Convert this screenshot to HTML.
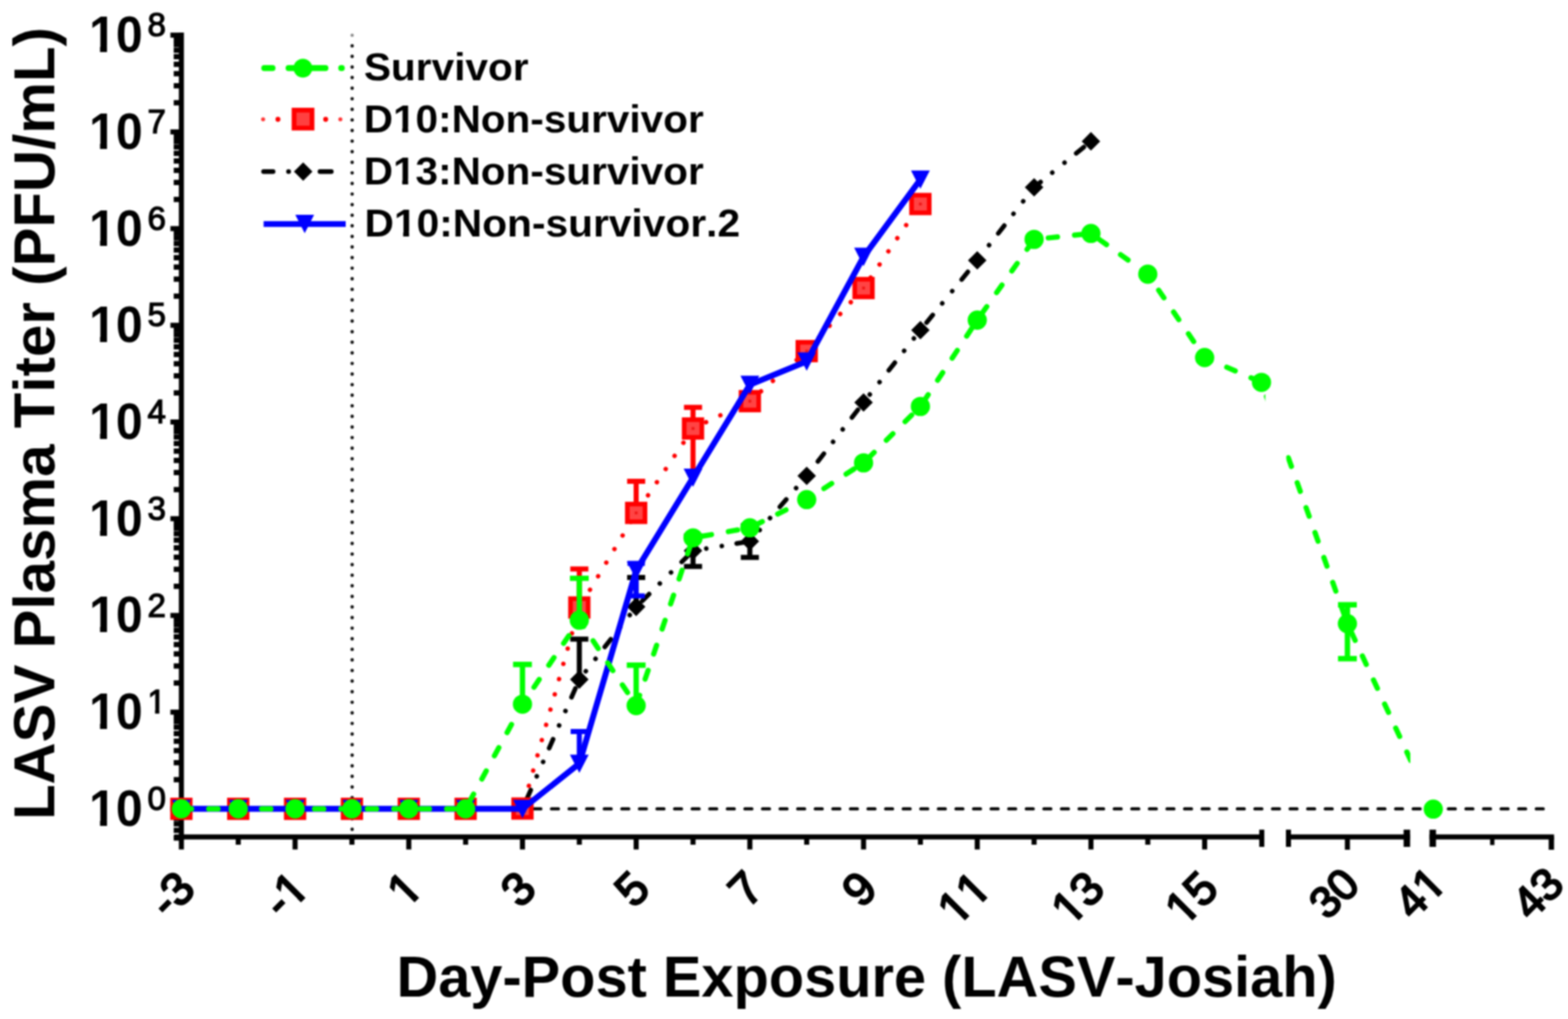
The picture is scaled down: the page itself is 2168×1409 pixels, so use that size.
<!DOCTYPE html>
<html lang="en"><head><meta charset="utf-8"><title>LASV Plasma Titer</title>
<style>html,body{margin:0;padding:0;background:#fff;overflow:hidden}svg{display:block;filter:blur(0.9px)}text{font-family:"Liberation Sans",sans-serif;font-weight:bold;fill:#000;font-kerning:none}text.sb{font-weight:normal;stroke:#000;stroke-linejoin:miter}</style>
</head><body>
<svg width="2168" height="1409" viewBox="0 0 2168 1409">
<rect width="2168" height="1409" fill="#fff"/>
<defs>
<clipPath id="clipA"><rect x="0" y="0" width="1749.5" height="1409"/></clipPath>
<clipPath id="clipB"><rect x="1778.5" y="0" width="171.5" height="1409"/><rect x="1982" y="0" width="186" height="1409"/></clipPath>
</defs>
<g id="axes" stroke="#000" fill="none">
<line x1="250.8" y1="45.1" x2="250.8" y2="1160.8" stroke-width="7.0"/>
<line x1="235.6" y1="1118.4" x2="250.8" y2="1118.4" stroke-width="7"/>
<line x1="235.6" y1="984.7" x2="250.8" y2="984.7" stroke-width="7"/>
<line x1="235.6" y1="851.0" x2="250.8" y2="851.0" stroke-width="7"/>
<line x1="235.6" y1="717.2" x2="250.8" y2="717.2" stroke-width="7"/>
<line x1="235.6" y1="583.5" x2="250.8" y2="583.5" stroke-width="7"/>
<line x1="235.6" y1="449.8" x2="250.8" y2="449.8" stroke-width="7"/>
<line x1="235.6" y1="316.1" x2="250.8" y2="316.1" stroke-width="7"/>
<line x1="235.6" y1="182.4" x2="250.8" y2="182.4" stroke-width="7"/>
<line x1="235.6" y1="48.6" x2="250.8" y2="48.6" stroke-width="7"/>
<line x1="240.2" y1="1158.7" x2="250.8" y2="1158.7" stroke-width="7.3"/>
<line x1="240.2" y1="1148.1" x2="250.8" y2="1148.1" stroke-width="7.3"/>
<line x1="240.2" y1="1139.1" x2="250.8" y2="1139.1" stroke-width="7.3"/>
<line x1="240.2" y1="1131.4" x2="250.8" y2="1131.4" stroke-width="7.3"/>
<line x1="240.2" y1="1124.5" x2="250.8" y2="1124.5" stroke-width="7.3"/>
<line x1="240.2" y1="1078.1" x2="250.8" y2="1078.1" stroke-width="7.3"/>
<line x1="240.2" y1="1054.6" x2="250.8" y2="1054.6" stroke-width="7.3"/>
<line x1="240.2" y1="1037.9" x2="250.8" y2="1037.9" stroke-width="7.3"/>
<line x1="240.2" y1="1024.9" x2="250.8" y2="1024.9" stroke-width="7.3"/>
<line x1="240.2" y1="1014.3" x2="250.8" y2="1014.3" stroke-width="7.3"/>
<line x1="240.2" y1="1005.4" x2="250.8" y2="1005.4" stroke-width="7.3"/>
<line x1="240.2" y1="997.6" x2="250.8" y2="997.6" stroke-width="7.3"/>
<line x1="240.2" y1="990.8" x2="250.8" y2="990.8" stroke-width="7.3"/>
<line x1="240.2" y1="944.4" x2="250.8" y2="944.4" stroke-width="7.3"/>
<line x1="240.2" y1="920.9" x2="250.8" y2="920.9" stroke-width="7.3"/>
<line x1="240.2" y1="904.2" x2="250.8" y2="904.2" stroke-width="7.3"/>
<line x1="240.2" y1="891.2" x2="250.8" y2="891.2" stroke-width="7.3"/>
<line x1="240.2" y1="880.6" x2="250.8" y2="880.6" stroke-width="7.3"/>
<line x1="240.2" y1="871.7" x2="250.8" y2="871.7" stroke-width="7.3"/>
<line x1="240.2" y1="863.9" x2="250.8" y2="863.9" stroke-width="7.3"/>
<line x1="240.2" y1="857.1" x2="250.8" y2="857.1" stroke-width="7.3"/>
<line x1="240.2" y1="810.7" x2="250.8" y2="810.7" stroke-width="7.3"/>
<line x1="240.2" y1="787.2" x2="250.8" y2="787.2" stroke-width="7.3"/>
<line x1="240.2" y1="770.5" x2="250.8" y2="770.5" stroke-width="7.3"/>
<line x1="240.2" y1="757.5" x2="250.8" y2="757.5" stroke-width="7.3"/>
<line x1="240.2" y1="746.9" x2="250.8" y2="746.9" stroke-width="7.3"/>
<line x1="240.2" y1="738.0" x2="250.8" y2="738.0" stroke-width="7.3"/>
<line x1="240.2" y1="730.2" x2="250.8" y2="730.2" stroke-width="7.3"/>
<line x1="240.2" y1="723.4" x2="250.8" y2="723.4" stroke-width="7.3"/>
<line x1="240.2" y1="677.0" x2="250.8" y2="677.0" stroke-width="7.3"/>
<line x1="240.2" y1="653.4" x2="250.8" y2="653.4" stroke-width="7.3"/>
<line x1="240.2" y1="636.7" x2="250.8" y2="636.7" stroke-width="7.3"/>
<line x1="240.2" y1="623.8" x2="250.8" y2="623.8" stroke-width="7.3"/>
<line x1="240.2" y1="613.2" x2="250.8" y2="613.2" stroke-width="7.3"/>
<line x1="240.2" y1="604.2" x2="250.8" y2="604.2" stroke-width="7.3"/>
<line x1="240.2" y1="596.5" x2="250.8" y2="596.5" stroke-width="7.3"/>
<line x1="240.2" y1="589.6" x2="250.8" y2="589.6" stroke-width="7.3"/>
<line x1="240.2" y1="543.3" x2="250.8" y2="543.3" stroke-width="7.3"/>
<line x1="240.2" y1="519.7" x2="250.8" y2="519.7" stroke-width="7.3"/>
<line x1="240.2" y1="503.0" x2="250.8" y2="503.0" stroke-width="7.3"/>
<line x1="240.2" y1="490.1" x2="250.8" y2="490.1" stroke-width="7.3"/>
<line x1="240.2" y1="479.5" x2="250.8" y2="479.5" stroke-width="7.3"/>
<line x1="240.2" y1="470.5" x2="250.8" y2="470.5" stroke-width="7.3"/>
<line x1="240.2" y1="462.8" x2="250.8" y2="462.8" stroke-width="7.3"/>
<line x1="240.2" y1="455.9" x2="250.8" y2="455.9" stroke-width="7.3"/>
<line x1="240.2" y1="409.5" x2="250.8" y2="409.5" stroke-width="7.3"/>
<line x1="240.2" y1="386.0" x2="250.8" y2="386.0" stroke-width="7.3"/>
<line x1="240.2" y1="369.3" x2="250.8" y2="369.3" stroke-width="7.3"/>
<line x1="240.2" y1="356.3" x2="250.8" y2="356.3" stroke-width="7.3"/>
<line x1="240.2" y1="345.7" x2="250.8" y2="345.7" stroke-width="7.3"/>
<line x1="240.2" y1="336.8" x2="250.8" y2="336.8" stroke-width="7.3"/>
<line x1="240.2" y1="329.0" x2="250.8" y2="329.0" stroke-width="7.3"/>
<line x1="240.2" y1="322.2" x2="250.8" y2="322.2" stroke-width="7.3"/>
<line x1="240.2" y1="275.8" x2="250.8" y2="275.8" stroke-width="7.3"/>
<line x1="240.2" y1="252.3" x2="250.8" y2="252.3" stroke-width="7.3"/>
<line x1="240.2" y1="235.6" x2="250.8" y2="235.6" stroke-width="7.3"/>
<line x1="240.2" y1="222.6" x2="250.8" y2="222.6" stroke-width="7.3"/>
<line x1="240.2" y1="212.0" x2="250.8" y2="212.0" stroke-width="7.3"/>
<line x1="240.2" y1="203.1" x2="250.8" y2="203.1" stroke-width="7.3"/>
<line x1="240.2" y1="195.3" x2="250.8" y2="195.3" stroke-width="7.3"/>
<line x1="240.2" y1="188.5" x2="250.8" y2="188.5" stroke-width="7.3"/>
<line x1="240.2" y1="142.1" x2="250.8" y2="142.1" stroke-width="7.3"/>
<line x1="240.2" y1="118.6" x2="250.8" y2="118.6" stroke-width="7.3"/>
<line x1="240.2" y1="101.9" x2="250.8" y2="101.9" stroke-width="7.3"/>
<line x1="240.2" y1="88.9" x2="250.8" y2="88.9" stroke-width="7.3"/>
<line x1="240.2" y1="78.3" x2="250.8" y2="78.3" stroke-width="7.3"/>
<line x1="240.2" y1="69.4" x2="250.8" y2="69.4" stroke-width="7.3"/>
<line x1="240.2" y1="61.6" x2="250.8" y2="61.6" stroke-width="7.3"/>
<line x1="240.2" y1="54.8" x2="250.8" y2="54.8" stroke-width="7.3"/>
<line x1="240.8" y1="1157.3" x2="1748" y2="1157.3" stroke-width="7.0"/>
<line x1="1778" y1="1157.3" x2="1949.5" y2="1157.3" stroke-width="7.0"/>
<line x1="1976.5" y1="1157.3" x2="2148.7" y2="1157.3" stroke-width="7.0"/>
<line x1="1744.6" y1="1147.2" x2="1744.6" y2="1171" stroke-width="7"/>
<line x1="1781.5" y1="1147.2" x2="1781.5" y2="1171" stroke-width="7"/>
<line x1="1945.2" y1="1147.2" x2="1945.2" y2="1171" stroke-width="9"/>
<line x1="1981.0" y1="1147.2" x2="1981.0" y2="1171" stroke-width="9"/>
<line x1="250.8" y1="1157.3" x2="250.8" y2="1174.6" stroke-width="7"/>
<line x1="329.4" y1="1157.3" x2="329.4" y2="1168" stroke-width="7"/>
<line x1="408.0" y1="1157.3" x2="408.0" y2="1174.6" stroke-width="7"/>
<line x1="486.6" y1="1157.3" x2="486.6" y2="1168" stroke-width="7"/>
<line x1="565.2" y1="1157.3" x2="565.2" y2="1174.6" stroke-width="7"/>
<line x1="643.8" y1="1157.3" x2="643.8" y2="1168" stroke-width="7"/>
<line x1="722.4" y1="1157.3" x2="722.4" y2="1174.6" stroke-width="7"/>
<line x1="801.0" y1="1157.3" x2="801.0" y2="1168" stroke-width="7"/>
<line x1="879.6" y1="1157.3" x2="879.6" y2="1174.6" stroke-width="7"/>
<line x1="958.2" y1="1157.3" x2="958.2" y2="1168" stroke-width="7"/>
<line x1="1036.8" y1="1157.3" x2="1036.8" y2="1174.6" stroke-width="7"/>
<line x1="1115.4" y1="1157.3" x2="1115.4" y2="1168" stroke-width="7"/>
<line x1="1194.0" y1="1157.3" x2="1194.0" y2="1174.6" stroke-width="7"/>
<line x1="1272.6" y1="1157.3" x2="1272.6" y2="1168" stroke-width="7"/>
<line x1="1351.2" y1="1157.3" x2="1351.2" y2="1174.6" stroke-width="7"/>
<line x1="1429.8" y1="1157.3" x2="1429.8" y2="1168" stroke-width="7"/>
<line x1="1508.4" y1="1157.3" x2="1508.4" y2="1174.6" stroke-width="7"/>
<line x1="1587.0" y1="1157.3" x2="1587.0" y2="1168" stroke-width="7"/>
<line x1="1665.6" y1="1157.3" x2="1665.6" y2="1174.6" stroke-width="7"/>
<line x1="1863.0" y1="1157.3" x2="1863.0" y2="1175" stroke-width="7"/>
<line x1="2063.3" y1="1157.3" x2="2063.3" y2="1168.5" stroke-width="6"/>
<line x1="2145.0" y1="1157.3" x2="2145.0" y2="1175" stroke-width="7.4"/>
</g>
<line x1="486.9" y1="63.4" x2="486.9" y2="1148" stroke="#000" stroke-width="4.9" stroke-linecap="round" stroke-dasharray="0.01 14.63" opacity="0.92"/>
<line x1="486.9" y1="48.8" x2="486.9" y2="48.81" stroke="#000" stroke-width="4.6" stroke-linecap="round" opacity="0.45"/>
<line x1="251.9" y1="1118.4" x2="2135.2" y2="1118.4" stroke="#000" stroke-width="4.4" stroke-linecap="round" stroke-dasharray="9.6 14.715"/>
<g id="series-d13">
<line x1="722.4" y1="1118.4" x2="801.0" y2="939.6" stroke="#000000" stroke-width="6.4" stroke-linecap="round" stroke-dasharray="13.5 20.75 0.01 21.8 0.01 20.75" stroke-dashoffset="-14.85"/>
<line x1="801.0" y1="939.6" x2="879.6" y2="839.1" stroke="#000000" stroke-width="6.4" stroke-linecap="round" stroke-dasharray="13.5 20.75 0.01 21.8 0.01 20.75" stroke-dashoffset="-57.15"/>
<line x1="879.6" y1="839.1" x2="958.2" y2="761.5" stroke="#000000" stroke-width="6.4" stroke-linecap="round" stroke-dasharray="13.5 20.75 0.01 21.8 0.01 20.75" stroke-dashoffset="-11.65"/>
<line x1="958.2" y1="761.5" x2="1036.8" y2="748.5" stroke="#000000" stroke-width="6.4" stroke-linecap="round" stroke-dasharray="13.5 20.75 0.01 21.8 0.01 20.75" stroke-dashoffset="-61.15"/>
<line x1="1036.8" y1="748.5" x2="1115.4" y2="658.0" stroke="#000000" stroke-width="6.4" stroke-linecap="round" stroke-dasharray="13.5 20.75 0.01 21.8 0.01 20.75" stroke-dashoffset="-63.25"/>
<line x1="1115.4" y1="658.0" x2="1194.0" y2="556.5" stroke="#000000" stroke-width="6.4" stroke-linecap="round" stroke-dasharray="13.5 20.75 0.01 21.8 0.01 20.75" stroke-dashoffset="-25.25"/>
<line x1="1194.0" y1="556.5" x2="1272.6" y2="456.5" stroke="#000000" stroke-width="6.4" stroke-linecap="round" stroke-dasharray="13.5 20.75 0.01 21.8 0.01 20.75" stroke-dashoffset="-56.55"/>
<line x1="1272.6" y1="456.5" x2="1351.2" y2="360.0" stroke="#000000" stroke-width="6.4" stroke-linecap="round" stroke-dasharray="13.5 20.75 0.01 21.8 0.01 20.75" stroke-dashoffset="-13.55"/>
<line x1="1351.2" y1="360.0" x2="1429.8" y2="259.0" stroke="#000000" stroke-width="6.4" stroke-linecap="round" stroke-dasharray="13.5 20.75 0.01 21.8 0.01 20.75" stroke-dashoffset="-47.35"/>
<line x1="1429.8" y1="259.0" x2="1508.4" y2="195.4" stroke="#000000" stroke-width="6.4" stroke-linecap="round" stroke-dasharray="13.5 20.75 0.01 21.8 0.01 20.75" stroke-dashoffset="1.95"/>
<path d="M801.0,883.8V939.6M788.5,883.8H813.5" stroke="#000000" stroke-width="7" fill="none"/>
<path d="M879.6,798.4V839.0M867.1,798.4H892.1" stroke="#000000" stroke-width="7" fill="none"/>
<path d="M958.2,741.0V783.3M945.7,741.0H970.7M945.7,783.3H970.7" stroke="#000000" stroke-width="7" fill="none"/>
<path d="M1036.8,727.0V770.8M1024.3,727.0H1049.3M1024.3,770.8H1049.3" stroke="#000000" stroke-width="7" fill="none"/>
<path d="M250.8,1105.6L263.6,1118.4L250.8,1131.2L238.0,1118.4Z" fill="#000000"/>
<path d="M329.4,1105.6L342.2,1118.4L329.4,1131.2L316.6,1118.4Z" fill="#000000"/>
<path d="M408.0,1105.6L420.8,1118.4L408.0,1131.2L395.2,1118.4Z" fill="#000000"/>
<path d="M486.6,1105.6L499.4,1118.4L486.6,1131.2L473.8,1118.4Z" fill="#000000"/>
<path d="M565.2,1105.6L578.0,1118.4L565.2,1131.2L552.4,1118.4Z" fill="#000000"/>
<path d="M643.8,1105.6L656.6,1118.4L643.8,1131.2L631.0,1118.4Z" fill="#000000"/>
<path d="M722.4,1105.6L735.2,1118.4L722.4,1131.2L709.6,1118.4Z" fill="#000000"/>
<path d="M801.0,926.8L813.8,939.6L801.0,952.4L788.2,939.6Z" fill="#000000"/>
<path d="M879.6,826.3L892.4,839.1L879.6,851.9L866.8,839.1Z" fill="#000000"/>
<path d="M958.2,748.7L971.0,761.5L958.2,774.3L945.4,761.5Z" fill="#000000"/>
<path d="M1036.8,735.7L1049.6,748.5L1036.8,761.3L1024.0,748.5Z" fill="#000000"/>
<path d="M1115.4,645.2L1128.2,658.0L1115.4,670.8L1102.6,658.0Z" fill="#000000"/>
<path d="M1194.0,543.7L1206.8,556.5L1194.0,569.3L1181.2,556.5Z" fill="#000000"/>
<path d="M1272.6,443.7L1285.4,456.5L1272.6,469.3L1259.8,456.5Z" fill="#000000"/>
<path d="M1351.2,347.2L1364.0,360.0L1351.2,372.8L1338.4,360.0Z" fill="#000000"/>
<path d="M1429.8,246.2L1442.6,259.0L1429.8,271.8L1417.0,259.0Z" fill="#000000"/>
<path d="M1508.4,182.6L1521.2,195.4L1508.4,208.2L1495.6,195.4Z" fill="#000000"/>
</g>
<g id="series-d10">
<polyline points="250.8,1118.4 329.4,1118.4 408.0,1118.4 486.6,1118.4 565.2,1118.4 643.8,1118.4 722.4,1118.0 801.0,840.0 879.6,709.2 958.2,592.5 1036.8,554.7 1115.4,485.5 1194.0,398.3 1272.6,282.1" fill="none" stroke="#ff0000" stroke-width="6.2" stroke-linecap="round" stroke-dasharray="0.01 21.9" stroke-dashoffset="-0.3"/>
<path d="M801.0,786.8V840.0M788.5,786.8H813.5" stroke="#ff0000" stroke-width="7" fill="none"/>
<path d="M879.6,665.6V709.0M867.1,665.6H892.1" stroke="#ff0000" stroke-width="7" fill="none"/>
<path d="M958.2,563.2V652.0M945.7,563.2H970.7" stroke="#ff0000" stroke-width="7" fill="none"/>
<rect x="238.6" y="1106.2" width="24.4" height="24.4" fill="#ff4444" stroke="#ff0000" stroke-width="6.4"/><rect x="248.8" y="1116.4" width="4" height="4" fill="#f01818"/>
<rect x="317.2" y="1106.2" width="24.4" height="24.4" fill="#ff4444" stroke="#ff0000" stroke-width="6.4"/><rect x="327.4" y="1116.4" width="4" height="4" fill="#f01818"/>
<rect x="395.8" y="1106.2" width="24.4" height="24.4" fill="#ff4444" stroke="#ff0000" stroke-width="6.4"/><rect x="406.0" y="1116.4" width="4" height="4" fill="#f01818"/>
<rect x="474.4" y="1106.2" width="24.4" height="24.4" fill="#ff4444" stroke="#ff0000" stroke-width="6.4"/><rect x="484.6" y="1116.4" width="4" height="4" fill="#f01818"/>
<rect x="553.0" y="1106.2" width="24.4" height="24.4" fill="#ff4444" stroke="#ff0000" stroke-width="6.4"/><rect x="563.2" y="1116.4" width="4" height="4" fill="#f01818"/>
<rect x="631.6" y="1106.2" width="24.4" height="24.4" fill="#ff4444" stroke="#ff0000" stroke-width="6.4"/><rect x="641.8" y="1116.4" width="4" height="4" fill="#f01818"/>
<rect x="710.2" y="1105.8" width="24.4" height="24.4" fill="#ff4444" stroke="#ff0000" stroke-width="6.4"/><rect x="720.4" y="1116.0" width="4" height="4" fill="#f01818"/>
<rect x="788.8" y="827.8" width="24.4" height="24.4" fill="#ff4444" stroke="#ff0000" stroke-width="6.4"/><rect x="799.0" y="838.0" width="4" height="4" fill="#f01818"/>
<rect x="867.4" y="697.0" width="24.4" height="24.4" fill="#ff4444" stroke="#ff0000" stroke-width="6.4"/><rect x="877.6" y="707.2" width="4" height="4" fill="#f01818"/>
<rect x="946.0" y="580.3" width="24.4" height="24.4" fill="#ff4444" stroke="#ff0000" stroke-width="6.4"/><rect x="956.2" y="590.5" width="4" height="4" fill="#f01818"/>
<rect x="1024.6" y="542.5" width="24.4" height="24.4" fill="#ff4444" stroke="#ff0000" stroke-width="6.4"/><rect x="1034.8" y="552.7" width="4" height="4" fill="#f01818"/>
<rect x="1103.2" y="473.3" width="24.4" height="24.4" fill="#ff4444" stroke="#ff0000" stroke-width="6.4"/><rect x="1113.4" y="483.5" width="4" height="4" fill="#f01818"/>
<rect x="1181.8" y="386.1" width="24.4" height="24.4" fill="#ff4444" stroke="#ff0000" stroke-width="6.4"/><rect x="1192.0" y="396.3" width="4" height="4" fill="#f01818"/>
<rect x="1260.4" y="269.9" width="24.4" height="24.4" fill="#ff4444" stroke="#ff0000" stroke-width="6.4"/><rect x="1270.6" y="280.1" width="4" height="4" fill="#f01818"/>
</g>
<g id="series-d10-2">
<polyline points="250.8,1118.4 329.4,1118.4 408.0,1118.4 486.6,1118.4 565.2,1118.4 643.8,1118.4 722.4,1118.4 801.0,1055.8 879.6,788.6 958.2,660.3 1036.8,532.0 1115.4,499.7 1194.0,355.0 1272.6,248.1" fill="none" stroke="#0000ff" stroke-width="8.2" stroke-linejoin="round"/>
<path d="M801.0,1011.4V1055.0M789.0,1011.4H813.0" stroke="#0000ff" stroke-width="7" fill="none"/>
<path d="M879.6,779.0V824.0M867.6,779.0H891.6M867.6,824.0H891.6" stroke="#0000ff" stroke-width="7" fill="none"/>
<path d="M237.8,1106.0H263.8L250.8,1131.4Z" fill="#0000ff"/>
<path d="M316.4,1106.0H342.4L329.4,1131.4Z" fill="#0000ff"/>
<path d="M395.0,1106.0H421.0L408.0,1131.4Z" fill="#0000ff"/>
<path d="M473.6,1106.0H499.6L486.6,1131.4Z" fill="#0000ff"/>
<path d="M552.2,1106.0H578.2L565.2,1131.4Z" fill="#0000ff"/>
<path d="M630.8,1106.0H656.8L643.8,1131.4Z" fill="#0000ff"/>
<path d="M709.4,1106.0H735.4L722.4,1131.4Z" fill="#0000ff"/>
<path d="M788.0,1043.4H814.0L801.0,1068.8Z" fill="#0000ff"/>
<path d="M866.6,776.2H892.6L879.6,801.6Z" fill="#0000ff"/>
<path d="M945.2,647.9H971.2L958.2,673.3Z" fill="#0000ff"/>
<path d="M1023.8,519.6H1049.8L1036.8,545.0Z" fill="#0000ff"/>
<path d="M1102.4,487.3H1128.4L1115.4,512.7Z" fill="#0000ff"/>
<path d="M1181.0,342.6H1207.0L1194.0,368.0Z" fill="#0000ff"/>
<path d="M1259.6,235.7H1285.6L1272.6,261.1Z" fill="#0000ff"/>
</g>
<g id="series-survivor">
<polyline points="250.8,1118.4 329.4,1118.4 408.0,1118.4 486.6,1118.4 565.2,1118.4 643.8,1118.4 722.4,973.7 801.0,857.5 879.6,975.6 958.2,743.7 1036.8,729.8 1115.4,690.8 1194.0,640.0 1272.6,562.0 1351.2,442.6 1429.8,331.0 1508.4,322.8 1587.0,379.1 1665.6,494.4 1744.2,528.7 1863.0,862.3" fill="none" stroke="#00ff00" stroke-width="7.2" stroke-linecap="round" stroke-dasharray="12.8 23.75" stroke-dashoffset="-1.3" clip-path="url(#clipA)"/>
<polyline points="1744.2,528.7 1863.0,862.3 1981.7,1118.8" fill="none" stroke="#00ff00" stroke-width="7.2" stroke-linecap="round" stroke-dasharray="12.8 23.8" stroke-dashoffset="-0.8" clip-path="url(#clipB)"/>
<path d="M722.4,918.8V973.0M709.4,918.8H735.4" stroke="#00ff00" stroke-width="7.4" fill="none"/>
<path d="M801.0,799.6V857.0M788.0,799.6H814.0" stroke="#00ff00" stroke-width="7.4" fill="none"/>
<path d="M879.6,919.8V975.0M866.6,919.8H892.6" stroke="#00ff00" stroke-width="7.4" fill="none"/>
<path d="M1863.0,836.2V910.8M1850.0,836.2H1876.0M1850.0,910.8H1876.0" stroke="#00ff00" stroke-width="7.4" fill="none"/>
<circle cx="250.8" cy="1118.4" r="13.3" fill="#00ff00"/>
<circle cx="329.4" cy="1118.4" r="13.3" fill="#00ff00"/>
<circle cx="408.0" cy="1118.4" r="13.3" fill="#00ff00"/>
<circle cx="486.6" cy="1118.4" r="13.3" fill="#00ff00"/>
<circle cx="565.2" cy="1118.4" r="13.3" fill="#00ff00"/>
<circle cx="643.8" cy="1118.4" r="13.3" fill="#00ff00"/>
<circle cx="722.4" cy="973.7" r="13.3" fill="#00ff00"/>
<circle cx="801.0" cy="857.5" r="13.3" fill="#00ff00"/>
<circle cx="879.6" cy="975.6" r="13.3" fill="#00ff00"/>
<circle cx="958.2" cy="743.7" r="13.3" fill="#00ff00"/>
<circle cx="1036.8" cy="729.8" r="13.3" fill="#00ff00"/>
<circle cx="1115.4" cy="690.8" r="13.3" fill="#00ff00"/>
<circle cx="1194.0" cy="640.0" r="13.3" fill="#00ff00"/>
<circle cx="1272.6" cy="562.0" r="13.3" fill="#00ff00"/>
<circle cx="1351.2" cy="442.6" r="13.3" fill="#00ff00"/>
<circle cx="1429.8" cy="331.0" r="13.3" fill="#00ff00"/>
<circle cx="1508.4" cy="322.8" r="13.3" fill="#00ff00"/>
<circle cx="1587.0" cy="379.1" r="13.3" fill="#00ff00"/>
<circle cx="1665.6" cy="494.4" r="13.3" fill="#00ff00"/>
<circle cx="1744.2" cy="528.7" r="13.3" fill="#00ff00"/>
<circle cx="1863.0" cy="862.3" r="13.3" fill="#00ff00"/>
<circle cx="1981.7" cy="1118.8" r="13.3" fill="#00ff00"/>
</g>
<g id="legend">
<path d="M365.4,94.2H376.8M399,94.2H450M471.8,94.2H472.6" stroke="#00ff00" stroke-width="8.2" stroke-linecap="round" fill="none"/>
<circle cx="418.8" cy="94.2" r="13" fill="#00ff00"/>
<path d="M384.3,165h0.01M450.3,165h0.01" stroke="#ff0000" stroke-width="6.8" stroke-linecap="round" fill="none"/>
<path d="M363.8,165h0.01M470.6,165h0.01" stroke="#ff0000" stroke-width="5.6" stroke-linecap="round" fill="none" opacity="0.8"/>
<rect x="406.6" y="152.3" width="24.8" height="24.8" fill="#ff4040" stroke="#ff0000" stroke-width="6.6"/>
<path d="M364.5,237.3H377.5M399,237.3h0.01M442.5,237.3H458" stroke="#000000" stroke-width="6.6" stroke-linecap="round" fill="none"/>
<path d="M419.2,224.5L432,237.3L419.2,250.1L406.4,237.3Z" fill="#000000"/>
<line x1="364.5" y1="309.7" x2="478" y2="309.7" stroke="#0000ff" stroke-width="8"/>
<path d="M408.3,297H434.3L421.3,322.6Z" fill="#0000ff"/>
<text x="503.2" y="110.6" font-size="53.8" textLength="227.6" lengthAdjust="spacingAndGlyphs">Survivor</text>
<text x="503.0" y="182.7" font-size="53.8" textLength="470.0" lengthAdjust="spacingAndGlyphs">D10:Non-survivor</text><rect x="545.47" y="175.75" width="10.71" height="7.75" fill="#fff"/><rect x="564.32" y="175.75" width="10.15" height="7.75" fill="#fff"/>
<text x="503.0" y="254.8" font-size="53.8" textLength="470.0" lengthAdjust="spacingAndGlyphs">D13:Non-survivor</text><rect x="545.47" y="247.85" width="10.71" height="7.75" fill="#fff"/><rect x="564.32" y="247.85" width="10.15" height="7.75" fill="#fff"/>
<text x="504.0" y="326.7" font-size="53.8" textLength="519.3" lengthAdjust="spacingAndGlyphs">D10:Non-survivor.2</text><rect x="546.68" y="319.75" width="10.77" height="7.75" fill="#fff"/><rect x="565.63" y="319.75" width="10.20" height="7.75" fill="#fff"/>
</g>
<g id="yticklabels">
<g transform="translate(197.2,1141.8) scale(1,1.055)"><text x="-74.06" y="0" font-size="66.6">10</text><rect x="-71.56" y="-8.29" width="12.67" height="9.09" fill="#fff"/><rect x="-49.27" y="-8.29" width="12.01" height="9.09" fill="#fff"/></g>
<g transform="translate(216.6,1120.0)"><text x="-12.68" y="0" font-size="45.6" class="sb" stroke-width="1.6">0</text></g>
<g transform="translate(197.2,1008.1) scale(1,1.055)"><text x="-74.06" y="0" font-size="66.6">10</text><rect x="-71.56" y="-8.29" width="12.67" height="9.09" fill="#fff"/><rect x="-49.27" y="-8.29" width="12.01" height="9.09" fill="#fff"/></g>
<g transform="translate(216.6,986.3)"><text x="-12.68" y="0" font-size="45.6" class="sb" stroke-width="1.6">1</text><rect x="-11.01" y="-5.52" width="8.79" height="7.12" fill="#fff"/><rect x="3.78" y="-5.52" width="8.79" height="7.12" fill="#fff"/></g>
<g transform="translate(197.2,874.4) scale(1,1.055)"><text x="-74.06" y="0" font-size="66.6">10</text><rect x="-71.56" y="-8.29" width="12.67" height="9.09" fill="#fff"/><rect x="-49.27" y="-8.29" width="12.01" height="9.09" fill="#fff"/></g>
<g transform="translate(216.6,852.6)"><text x="-12.68" y="0" font-size="45.6" class="sb" stroke-width="1.6">2</text></g>
<g transform="translate(197.2,740.6) scale(1,1.055)"><text x="-74.06" y="0" font-size="66.6">10</text><rect x="-71.56" y="-8.29" width="12.67" height="9.09" fill="#fff"/><rect x="-49.27" y="-8.29" width="12.01" height="9.09" fill="#fff"/></g>
<g transform="translate(216.6,718.8)"><text x="-12.68" y="0" font-size="45.6" class="sb" stroke-width="1.6">3</text></g>
<g transform="translate(197.2,606.9) scale(1,1.055)"><text x="-74.06" y="0" font-size="66.6">10</text><rect x="-71.56" y="-8.29" width="12.67" height="9.09" fill="#fff"/><rect x="-49.27" y="-8.29" width="12.01" height="9.09" fill="#fff"/></g>
<g transform="translate(216.6,585.1)"><text x="-12.68" y="0" font-size="45.6" class="sb" stroke-width="1.6">4</text></g>
<g transform="translate(197.2,473.2) scale(1,1.055)"><text x="-74.06" y="0" font-size="66.6">10</text><rect x="-71.56" y="-8.29" width="12.67" height="9.09" fill="#fff"/><rect x="-49.27" y="-8.29" width="12.01" height="9.09" fill="#fff"/></g>
<g transform="translate(216.6,451.4)"><text x="-12.68" y="0" font-size="45.6" class="sb" stroke-width="1.6">5</text></g>
<g transform="translate(197.2,339.5) scale(1,1.055)"><text x="-74.06" y="0" font-size="66.6">10</text><rect x="-71.56" y="-8.29" width="12.67" height="9.09" fill="#fff"/><rect x="-49.27" y="-8.29" width="12.01" height="9.09" fill="#fff"/></g>
<g transform="translate(216.6,317.7)"><text x="-12.68" y="0" font-size="45.6" class="sb" stroke-width="1.6">6</text></g>
<g transform="translate(197.2,205.8) scale(1,1.055)"><text x="-74.06" y="0" font-size="66.6">10</text><rect x="-71.56" y="-8.29" width="12.67" height="9.09" fill="#fff"/><rect x="-49.27" y="-8.29" width="12.01" height="9.09" fill="#fff"/></g>
<g transform="translate(216.6,184.0)"><text x="-12.68" y="0" font-size="45.6" class="sb" stroke-width="1.6">7</text></g>
<g transform="translate(197.2,72.0) scale(1,1.055)"><text x="-74.06" y="0" font-size="66.6">10</text><rect x="-71.56" y="-8.29" width="12.67" height="9.09" fill="#fff"/><rect x="-49.27" y="-8.29" width="12.01" height="9.09" fill="#fff"/></g>
<g transform="translate(216.6,50.2)"><text x="-12.68" y="0" font-size="45.6" class="sb" stroke-width="1.6">8</text></g>
</g>
<g id="xticklabels">
<g transform="translate(256.6,1215.8) rotate(-45)"><text x="-56.54" y="22.77" font-size="63.6" class="sb" stroke-width="2.8">-3</text></g>
<g transform="translate(413.8,1215.8) rotate(-45)"><text x="-56.54" y="22.77" font-size="63.6" class="sb" stroke-width="2.8">-1</text><rect x="-33.13" y="15.30" width="12.12" height="9.67" fill="#fff"/><rect x="-12.19" y="15.30" width="12.12" height="9.67" fill="#fff"/></g>
<g transform="translate(571.0,1215.8) rotate(-45)"><text x="-35.36" y="22.77" font-size="63.6" class="sb" stroke-width="2.8">1</text><rect x="-33.13" y="15.30" width="12.12" height="9.67" fill="#fff"/><rect x="-12.19" y="15.30" width="12.12" height="9.67" fill="#fff"/></g>
<g transform="translate(728.2,1215.8) rotate(-45)"><text x="-35.36" y="22.77" font-size="63.6" class="sb" stroke-width="2.8">3</text></g>
<g transform="translate(885.4,1215.8) rotate(-45)"><text x="-35.36" y="22.77" font-size="63.6" class="sb" stroke-width="2.8">5</text></g>
<g transform="translate(1042.6,1215.8) rotate(-45)"><text x="-35.36" y="22.77" font-size="63.6" class="sb" stroke-width="2.8">7</text></g>
<g transform="translate(1199.8,1215.8) rotate(-45)"><text x="-35.36" y="22.77" font-size="63.6" class="sb" stroke-width="2.8">9</text></g>
<g transform="translate(1357.0,1215.8) rotate(-45)"><text x="-70.72" y="22.77" font-size="63.6" class="sb" stroke-width="2.8">11</text><rect x="-68.49" y="15.30" width="12.12" height="9.67" fill="#fff"/><rect x="-47.55" y="15.30" width="12.12" height="9.67" fill="#fff"/><rect x="-33.13" y="15.30" width="12.12" height="9.67" fill="#fff"/><rect x="-12.19" y="15.30" width="12.12" height="9.67" fill="#fff"/></g>
<g transform="translate(1514.2,1215.8) rotate(-45)"><text x="-70.72" y="22.77" font-size="63.6" class="sb" stroke-width="2.8">13</text><rect x="-68.49" y="15.30" width="12.12" height="9.67" fill="#fff"/><rect x="-47.55" y="15.30" width="12.12" height="9.67" fill="#fff"/></g>
<g transform="translate(1671.4,1215.8) rotate(-45)"><text x="-70.72" y="22.77" font-size="63.6" class="sb" stroke-width="2.8">15</text><rect x="-68.49" y="15.30" width="12.12" height="9.67" fill="#fff"/><rect x="-47.55" y="15.30" width="12.12" height="9.67" fill="#fff"/></g>
<g transform="translate(1867.3,1211.0) rotate(-45)"><text x="-66.72" y="21.48" font-size="60.0" class="sb" stroke-width="2.8">30</text></g>
<g transform="translate(1986.5,1209.3) rotate(-45)"><text x="-68.39" y="22.02" font-size="61.5" class="sb" stroke-width="2.8">41</text><rect x="-32.10" y="14.70" width="11.73" height="9.51" fill="#fff"/><rect x="-11.73" y="14.70" width="11.73" height="9.51" fill="#fff"/></g>
<g transform="translate(2149.6,1210.2) rotate(-45)"><text x="-68.39" y="22.02" font-size="61.5" class="sb" stroke-width="2.8">43</text></g>
</g>
<text id="xtitle" x="1198.3" y="1377.8" font-size="79.6" text-anchor="middle" textLength="1300" lengthAdjust="spacingAndGlyphs">Day-Post Exposure (LASV-Josiah)</text>
<text id="ytitle" transform="translate(75.2,585.6) rotate(-90)" font-size="79.6" text-anchor="middle" textLength="1096.5" lengthAdjust="spacingAndGlyphs">LASV Plasma Titer (PFU/mL)</text>
</svg></body></html>
